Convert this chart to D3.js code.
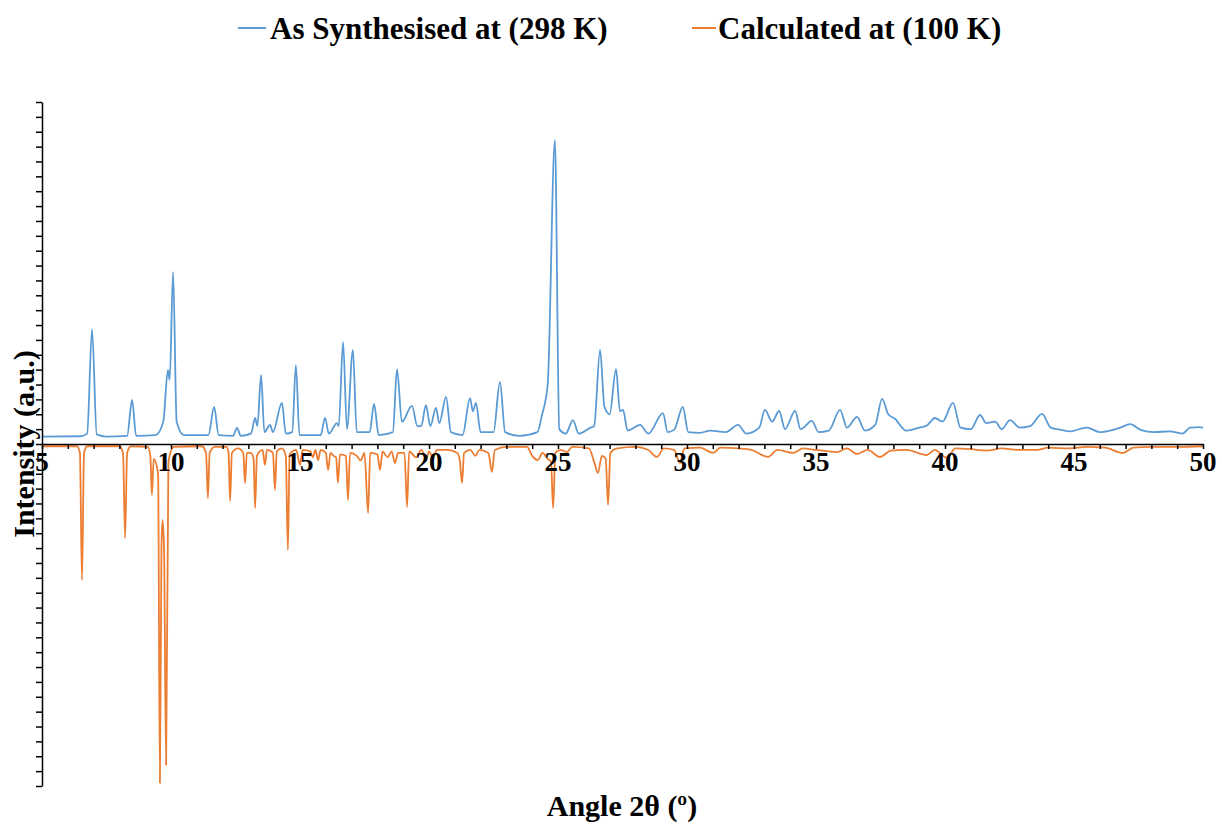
<!DOCTYPE html>
<html>
<head>
<meta charset="utf-8">
<script src="https://cdn.jsdelivr.net/npm/d3@7"></script>
<style>
  html, body { margin: 0; padding: 0; background: #fff; }
  svg { display: block; }
  text { font-family: "Liberation Serif", "Times New Roman", serif; font-weight: bold; fill: #000; }
</style>
</head>
<body>
<svg id="chart" width="1222" height="825"></svg>
<script>
// Series names
const seriesNames = ["As Synthesised at (298 K)", "Calculated at (100 K)"];

// Measured powder pattern (2θ in degrees, intensity in a.u.)
const measAngle = [5.0, 6.5, 6.75, 6.94, 7.12, 7.5, 8.3, 8.49, 8.65, 9.4, 9.7, 9.88, 9.95, 10.08, 10.22, 10.5,
  11.45, 11.67, 11.85, 12.4, 12.56, 12.7, 13.1, 13.26, 13.35, 13.49, 13.62, 13.84, 13.95, 14.3, 14.45, 14.7,
  14.84, 14.98, 15.8, 15.97, 16.12, 16.43, 16.5, 16.67, 16.82, 17.05, 17.2, 17.7, 17.87, 18.05, 18.6, 18.76,
  18.95, 19.34, 19.55, 19.7, 19.88, 20.05, 20.27, 20.4, 20.66, 20.85, 21.3, 21.59, 21.7, 21.82, 22.0, 22.5,
  22.75, 22.95, 23.5, 24.2, 24.38, 24.6, 24.88, 25.05, 25.3, 25.58, 25.8, 26.24, 26.4, 26.63, 26.8, 27.0,
  27.25, 27.4, 27.52, 27.7, 28.18, 28.5, 29.07, 29.25, 29.5, 29.84, 30.05, 30.5, 30.9, 31.5, 31.98, 32.3, 32.8, 33.02,
  33.3, 33.57, 33.8, 34.19, 34.4, 34.84, 35.1, 35.5, 35.93, 36.2, 36.59, 36.9, 37.3, 37.56, 37.8, 38.06,
  38.5, 38.8, 39.0, 39.3, 39.61, 39.9, 40.31, 40.6, 41.0, 41.36, 41.6, 41.94, 42.2, 42.52, 42.9, 43.3, 43.76, 44.1,
  44.5, 44.84, 45.5, 46.0, 46.4, 46.8, 47.17, 47.6, 48.1, 48.7, 49.2, 49.5, 49.88, 50.0];
const measIntensity = [50, 52, 70, 773, 65, 50, 55, 296, 55, 60, 150, 498, 430, 1157, 150, 60,
  60, 249, 60, 55, 108, 55, 70, 175, 120, 464, 80, 128, 80, 276, 70, 80,
  531, 60, 60, 175, 70, 141, 120, 686, 100, 632, 80, 80, 269, 60, 80, 504,
  150, 256, 120, 120, 262, 120, 242, 140, 316, 80, 60, 309, 220, 276, 80, 80,
  417, 80, 55, 80, 195, 400, 2044, 100, 70, 161, 70, 108, 120, 632, 250, 200,
  504, 220, 229, 90, 128, 70, 208, 80, 95, 249, 80, 75, 90, 80, 128, 70, 110, 229,
  150, 222, 100, 222, 100, 155, 80, 90, 229, 110, 182, 90, 130, 303, 200, 170,
  90, 100, 110, 125, 175, 150, 276, 110, 100, 195, 140, 150, 100, 161, 110, 120, 202, 110,
  95, 85, 110, 80, 90, 110, 134, 94, 80, 85, 70, 110, 114, 108];

// Calculated pattern, plotted downwards (negative intensity)
const calcAngle = [5.0, 6.35, 6.47, 6.55, 6.63, 6.75, 8.0, 8.14, 8.22, 8.30, 8.45, 9.1, 9.2, 9.26, 9.33, 9.5,
  9.57, 9.63, 9.67, 9.73, 9.81, 9.9, 10.1, 11.2, 11.36, 11.43, 11.5, 11.7, 12.15, 12.23, 12.29, 12.36, 12.6,
  12.8, 12.87, 12.94, 13.1, 13.2, 13.26, 13.33, 13.55, 13.64, 13.72, 13.95, 14.03, 14.1, 14.3, 14.45, 14.53,
  14.6, 14.85, 15.0, 15.1, 15.4, 15.5, 15.6, 15.7, 15.8, 16.0, 16.09, 16.18, 16.3, 16.4, 16.47, 16.55, 16.78,
  16.86, 16.94, 17.2, 17.35, 17.5, 17.64, 17.72, 18.0, 18.1, 18.2, 18.4, 18.55, 18.68, 18.8, 19.05, 19.15,
  19.23, 19.5, 19.7, 19.9, 20.0, 20.16, 20.3, 20.7, 21.1, 21.2, 21.28, 21.36, 21.6, 21.8, 21.95, 22.3, 22.44,
  22.55, 23.0, 23.8, 24.0, 24.22, 24.4, 24.6, 24.73, 24.81, 24.9, 25.1, 25.35, 25.55, 26.2, 26.4, 26.55,
  26.7, 26.85, 26.94, 27.03, 27.3, 28.0, 28.5, 28.84, 29.1, 29.5, 29.73, 29.9, 30.5, 31.01, 31.3, 32.0, 32.5,
  33.14, 33.5, 34.11, 34.5, 35.0, 35.81, 36.2, 36.59, 37.0, 37.48, 37.9, 38.5, 39.3, 39.6, 40.08, 40.4, 41.0,
  41.6, 42.2, 42.8, 43.57, 44.0, 44.8, 45.5, 46.2, 46.9, 47.3, 48.0, 49.0, 50.0];
const calcIntensity = [-15, -15, -60, -915, -60, -15, -15, -60, -632, -60, -15, -20, -80, -343, -100, -200,
  -2280, -700, -511, -700, -2159, -120, -20, -15, -60, -363, -60, -20, -20, -60, -383, -60, -30,
  -60, -262, -60, -60, -100, -430, -80, -40, -141, -40, -60, -309, -50, -30, -80, -713,
  -70, -40, -141, -40, -50, -90, -40, -108, -40, -60, -175, -60, -80, -90, -262, -70, -80,
  -377, -60, -80, -110, -60, -464, -60, -70, -175, -50, -90, -50, -128, -60, -60, -424,
  -50, -90, -40, -100, -50, -94, -40, -40, -60, -120, -262, -60, -40, -80, -40, -60, -188,
  -40, -20, -20, -80, -108, -60, -100, -120, -430, -60, -40, -54, -20, -30, -120, -195,
  -80, -100, -410, -60, -30, -20, -40, -87, -30, -40, -128, -30, -25, -60, -25, -30, -40,
  -87, -40, -60, -30, -40, -54, -30, -67, -40, -87, -45, -40, -74, -40, -94, -30, -35,
  -45, -30, -40, -40, -25, -30, -20, -25, -60, -25, -20, -20, -15];

// Axis settings
const xDomain = [5, 50];
const xLabelTicks = [5, 10, 15, 20, 25, 30, 35, 40, 45, 50];
const yDomain = [-2300, 2300];
const yTickStep = 100;

const colors = ["#5B9BD5", "#ED7D31"];

const svg = d3.select("#chart");
const plot = { left: 42, right: 1203, top: 102, bottom: 786 };

const x = d3.scaleLinear().domain(xDomain).range([plot.left, plot.right]);
const y = d3.scaleLinear().domain(yDomain).range([plot.bottom, plot.top]);

const line = d3.line().x(d => x(d[0])).y(d => y(d[1])).curve(d3.curveMonotoneX);

const meas = d3.zip(measAngle, measIntensity);
const calc = d3.zip(calcAngle, calcIntensity);

svg.append("path").datum(calc)
  .attr("d", line).attr("fill", "none")
  .attr("stroke", colors[1]).attr("stroke-width", 1.8).attr("stroke-linejoin", "round");

svg.append("path").datum(meas)
  .attr("d", line).attr("fill", "none")
  .attr("stroke", colors[0]).attr("stroke-width", 1.8).attr("stroke-linejoin", "round");

// X axis drawn along zero intensity, minor ticks every degree
const xAxis = d3.axisBottom(x)
  .tickValues(d3.range(xDomain[0], xDomain[1] + 0.001, 1))
  .tickSize(5).tickSizeOuter(0).tickFormat("");
const gx = svg.append("g").attr("transform", `translate(0,${y(0)})`).call(xAxis);
gx.select(".domain").attr("stroke", "#000").attr("stroke-width", 1.5);
gx.selectAll(".tick line").attr("stroke", "#000").attr("stroke-width", 1.5);

// Numeric labels for the X axis
svg.append("g").selectAll("text").data(xLabelTicks).join("text")
  .attr("x", d => x(d))
  .attr("y", y(0) + 27)
  .attr("text-anchor", "middle")
  .attr("font-size", 27)
  .text(d => d);

// Y axis with unlabeled ticks
const yAxis = d3.axisLeft(y)
  .tickValues(d3.range(yDomain[0], yDomain[1] + 0.001, yTickStep))
  .tickSize(6).tickSizeOuter(0).tickFormat("");
const gy = svg.append("g").attr("transform", `translate(${plot.left},0)`).call(yAxis);
gy.select(".domain").attr("stroke", "#000").attr("stroke-width", 1.5);
gy.selectAll(".tick line").attr("stroke", "#000").attr("stroke-width", 1.5);

// Axis titles
svg.append("text")
  .attr("x", 622).attr("y", 816)
  .attr("text-anchor", "middle").attr("font-size", 30)
  .text("Angle 2θ (º)");

svg.append("text")
  .attr("transform", `translate(34,${y(0)}) rotate(-90)`)
  .attr("text-anchor", "middle").attr("font-size", 30)
  .text("Intensity (a.u.)");

// Legend
const legend = [
  { name: seriesNames[0], color: colors[0], x0: 238, x1: 266, tx: 270 },
  { name: seriesNames[1], color: colors[1], x0: 692, x1: 716, tx: 718 }
];
const lg = svg.append("g");
legend.forEach(d => {
  lg.append("line").attr("x1", d.x0).attr("x2", d.x1).attr("y1", 28).attr("y2", 28)
    .attr("stroke", d.color).attr("stroke-width", 2);
  lg.append("text").attr("x", d.tx).attr("y", 39).attr("font-size", 31).text(d.name);
});
</script>
</body>
</html>
